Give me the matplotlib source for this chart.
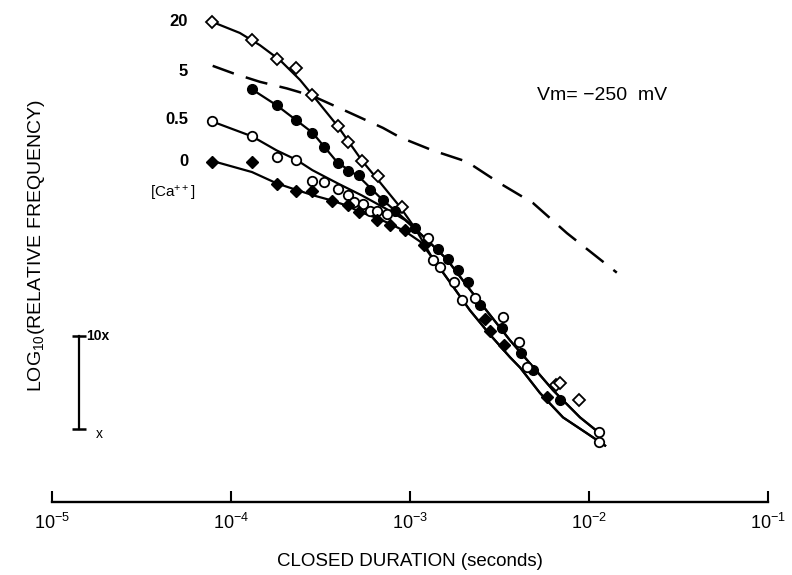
import numpy as np
import matplotlib
matplotlib.use('Agg')
import matplotlib.pyplot as plt

plt.rcParams['font.family'] = ['Liberation Sans', 'DejaVu Sans']
plt.rcParams['mathtext.fontset'] = 'custom'
plt.rcParams['mathtext.rm'] = 'Liberation Sans'
plt.rcParams['mathtext.it'] = 'Liberation Sans:italic'
plt.rcParams['mathtext.bf'] = 'Liberation Sans:bold'

# data points, closed durations (s) and log10 relative frequency
# [Ca++] = 20 -> open diamonds
dur_20 = [7.8e-5, 1.31e-4, 1.8e-4, 2.32e-4, 2.85e-4, 3.94e-4, 4.48e-4, 5.4e-4, 6.62e-4, 9.02e-4, 6.54e-3, 6.89e-3, 8.79e-3]
logf_20 = [5.11, 4.92, 4.71, 4.62, 4.33, 4.0, 3.83, 3.63, 3.47, 3.14, 1.24, 1.27, 1.09]
# [Ca++] = 5 -> filled circles
dur_5 = [1.31e-4, 1.8e-4, 2.32e-4, 2.85e-4, 3.31e-4, 3.94e-4, 4.48e-4, 5.19e-4, 6.01e-4, 7.06e-4, 8.25e-4,
         1.07e-3, 1.43e-3, 1.63e-3, 1.85e-3, 2.11e-3, 2.46e-3, 3.27e-3, 4.17e-3, 4.87e-3, 6.89e-3]
logf_5 = [4.39, 4.22, 4.06, 3.93, 3.78, 3.61, 3.52, 3.48, 3.32, 3.21, 3.10,
          2.91, 2.69, 2.59, 2.47, 2.34, 2.10, 1.85, 1.59, 1.40, 1.09]
# [Ca++] = 0.5 -> open circles
dur_05 = [7.8e-5, 1.31e-4, 1.8e-4, 2.32e-4, 2.85e-4, 3.31e-4, 3.94e-4, 4.53e-4, 4.87e-4, 5.46e-4, 6.01e-4, 6.55e-4, 7.4e-4,
          1.26e-3, 1.35e-3, 1.47e-3, 1.75e-3, 1.95e-3, 2.31e-3, 3.3e-3, 4.06e-3, 4.51e-3, 1.14e-2, 1.14e-2]
logf_05 = [4.05, 3.89, 3.67, 3.64, 3.42, 3.40, 3.33, 3.27, 3.19, 3.17, 3.10, 3.10, 3.06,
           2.81, 2.57, 2.50, 2.34, 2.15, 2.17, 1.97, 1.70, 1.44, 0.74, 0.64]
# [Ca++] = 0 -> filled diamonds
dur_0 = [7.8e-5, 1.31e-4, 1.8e-4, 2.32e-4, 2.85e-4, 3.67e-4, 4.48e-4, 5.19e-4, 6.55e-4, 7.73e-4, 9.38e-4,
         1.2e-3, 2.62e-3, 2.8e-3, 3.37e-3, 5.82e-3]
logf_0 = [3.62, 3.62, 3.38, 3.31, 3.31, 3.20, 3.16, 3.09, 3.0, 2.95, 2.89,
          2.73, 1.95, 1.82, 1.67, 1.12]

# fitted curves
fit_t_20 = [7.8e-5, 1.12e-4, 1.45e-4, 1.88e-4, 2.43e-4, 2.85e-4, 3.94e-4, 5.4e-4, 6.8e-4, 8.79e-4, 1.07e-3,
            1.33e-3, 1.67e-3, 2.16e-3, 2.8e-3, 3.62e-3, 4.12e-3, 5.32e-3, 7.16e-3, 9.75e-3, 1.23e-2]
fit_y_20 = [5.11, 4.99, 4.86, 4.70, 4.49, 4.33, 4.0, 3.63, 3.40, 3.14, 2.91,
            2.60, 2.34, 2.04, 1.78, 1.54, 1.43, 1.16, 0.90, 0.73, 0.60]
fit_t_5 = [1.31e-4, 1.8e-4, 2.32e-4, 2.85e-4, 3.94e-4, 5.19e-4, 7.06e-4, 8.25e-4, 1.0e-3, 1.29e-3,
           1.61e-3, 2.16e-3, 2.8e-3, 3.62e-3, 4.51e-3, 6.29e-3, 8.91e-3, 1.15e-2]
fit_y_5 = [4.39, 4.22, 4.06, 3.93, 3.61, 3.46, 3.21, 3.10, 2.96, 2.76,
           2.58, 2.26, 1.99, 1.72, 1.51, 1.19, 0.90, 0.73]
fit_t_05 = [7.8e-5, 1.31e-4, 1.8e-4, 2.32e-4, 2.85e-4, 3.94e-4, 5.4e-4, 7.34e-4, 9.38e-4, 1.29e-3,
            1.61e-3, 2.16e-3, 2.8e-3, 3.62e-3, 4.51e-3, 6.29e-3, 8.91e-3, 1.15e-2]
fit_y_05 = [4.05, 3.89, 3.74, 3.64, 3.53, 3.39, 3.26, 3.12, 3.0, 2.76,
            2.58, 2.26, 1.99, 1.72, 1.51, 1.19, 0.90, 0.73]
fit_t_0 = [7.8e-5, 1.31e-4, 1.8e-4, 2.32e-4, 2.91e-4, 3.62e-4, 4.48e-4, 5.19e-4, 6.55e-4, 7.73e-4, 9.38e-4, 1.14e-3,
           1.33e-3, 1.67e-3, 2.16e-3, 2.8e-3, 3.62e-3, 4.12e-3, 5.32e-3, 7.16e-3, 9.75e-3, 1.23e-2]
fit_y_0 = [3.63, 3.51, 3.39, 3.32, 3.26, 3.21, 3.15, 3.09, 3.02, 2.96, 2.88, 2.77,
           2.60, 2.34, 2.04, 1.78, 1.54, 1.43, 1.16, 0.90, 0.73, 0.60]

# dashed curve
dash_t = [7.9e-5, 1.03e-4, 1.45e-4, 2.05e-4, 2.85e-4, 4.62e-4, 7.06e-4, 8.79e-4, 1.34e-3, 2.08e-3, 3.18e-3, 4.87e-3, 7.53e-3, 1.43e-2]
dash_y = [4.64, 4.56, 4.47, 4.40, 4.32, 4.14, 3.98, 3.88, 3.74, 3.62, 3.39, 3.18, 2.86, 2.44]

ca_labels = ['20', '5', '0.5', '0']

W, H = 792, 575
fig = plt.figure(figsize=(W / 100, H / 100), dpi=100)
ax = fig.add_axes([52 / W, (H - 502) / H, 716 / W, 502 / H])

ax.set_xscale('log')
ax.set_xlim(1e-5, 1e-1)
ax.set_ylim(0, 502 / 94)

lw = 1.6
for t, y in [(fit_t_20, fit_y_20), (fit_t_5, fit_y_5), (fit_t_05, fit_y_05), (fit_t_0, fit_y_0)]:
    ax.plot(t, y, color='black', lw=lw, zorder=2, solid_joinstyle='round')
ax.plot(dash_t, dash_y, color='black', lw=1.8, ls=(0, (9, 5)), zorder=2)

ax.plot(dur_20, logf_20, 'D', ms=6, mfc='white', mec='black', mew=1.3, ls='none', zorder=3)
ax.plot(dur_5, logf_5, 'o', ms=7, mfc='black', mec='black', mew=1.0, ls='none', zorder=3)
ax.plot(dur_05, logf_05, 'o', ms=6.8, mfc='white', mec='black', mew=1.3, ls='none', zorder=3)
ax.plot(dur_0, logf_0, 'D', ms=6.2, mfc='black', mec='black', mew=1.0, ls='none', zorder=3)

# scale bar (one decade)
xb = 1.42e-5
ax.plot([xb, xb], [0.78, 1.77], color='black', lw=1.6)
ax.plot([xb, xb], [0.78, 1.77], ls='none', marker='_', ms=10, mew=1.8, color='black')

for s in ['top', 'right', 'left']:
    ax.spines[s].set_visible(False)
ax.spines['bottom'].set_linewidth(1.7)
ax.set_yticks([])
ax.set_xticks([1e-5, 1e-4, 1e-3, 1e-2, 1e-1])
ax.minorticks_off()
ax.tick_params(axis='x', direction='in', length=8, width=1.5, labelsize=13, pad=8)
ax.set_xlabel('CLOSED DURATION (seconds)', fontsize=13.5, labelpad=14)


def px(x, y):
    return x / W, 1 - y / H


fig.text(*px(37, 246), 'LOG$_{10}$(RELATIVE FREQUENCY)', rotation=90, ha='center', va='center', fontsize=14)
fig.text(*px(86, 336), '10x', ha='left', va='center', fontsize=10, fontweight='bold')
fig.text(*px(96, 434), 'x', ha='left', va='center', fontsize=10)

ca_y = [21, 72, 120, 161]
for lab, yy in zip(ca_labels, ca_y):
    fig.text(*px(188, yy), lab, ha='right', va='center', fontsize=12, fontweight='bold')
fig.text(*px(173, 193), '[Ca$^{++}$]', ha='center', va='center', fontsize=11)

fig.text(*px(537, 96), 'Vm= \u2212250  mV', ha='left', va='center', fontsize=14)

fig.savefig('out.png', dpi=100)
